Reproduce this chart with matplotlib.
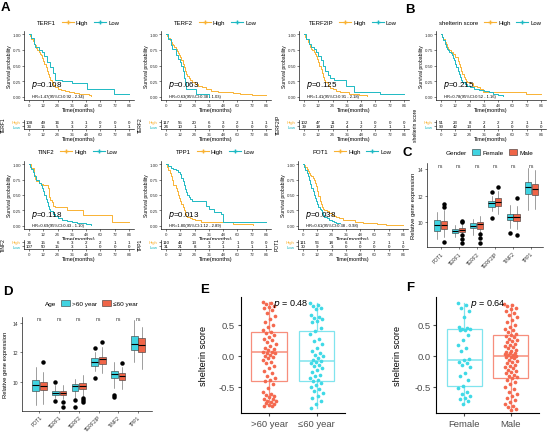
import matplotlib
matplotlib.use("Agg")
import matplotlib.pyplot as plt
import numpy as np
from matplotlib.lines import Line2D
from matplotlib.patches import Patch

plt.rcParams['font.family'] = ['Liberation Sans', 'DejaVu Sans']

# ---------------- data: Kaplan-Meier curves (months, survival) ----------------
months = [0, 12, 24, 36, 48, 60, 72, 84]

terf1_hi_t = [0, 1, 2, 3, 4, 5, 6, 7, 8, 9, 10, 11, 12, 13, 14, 15, 16, 17, 18, 19, 20, 22, 24, 27, 30, 34, 38, 42, 46, 50, 52]
terf1_hi_s = [1, 0.97, 0.93, 0.89, 0.85, 0.82, 0.78, 0.75, 0.72, 0.69, 0.66, 0.62, 0.57, 0.52, 0.47, 0.42, 0.37, 0.32, 0.27, 0.23, 0.19, 0.15, 0.13, 0.11, 0.09, 0.08, 0.06, 0.05, 0.04, 0.03, 0.02]
terf1_lo_t = [0, 2, 4, 5, 8, 11, 13, 15, 18, 20, 22, 28, 36, 49, 71, 84]
terf1_lo_s = [1, 0.94, 0.85, 0.8, 0.75, 0.72, 0.65, 0.55, 0.48, 0.38, 0.27, 0.26, 0.22, 0.13, 0.05, 0.05]

terf2_hi_t = [0, 1, 2, 3, 4, 5, 6, 7, 8, 9, 10, 11, 12, 13, 14, 15, 16, 17, 18, 19, 20, 22, 24, 27, 30, 34, 38, 44, 50, 56, 62, 68, 72, 84]
terf2_hi_s = [1, 0.97, 0.94, 0.91, 0.88, 0.85, 0.82, 0.79, 0.76, 0.73, 0.7, 0.67, 0.63, 0.58, 0.53, 0.47, 0.42, 0.37, 0.33, 0.3, 0.27, 0.23, 0.2, 0.17, 0.15, 0.12, 0.1, 0.08, 0.07, 0.06, 0.05, 0.04, 0.03, 0.03]
terf2_lo_t = [0, 2, 4, 5, 8, 10, 12, 13, 14, 15, 16, 17, 25, 36]
terf2_lo_s = [1, 0.92, 0.83, 0.76, 0.67, 0.6, 0.55, 0.5, 0.42, 0.3, 0.23, 0.12, 0.05, 0.0]

terf2ip_hi_t = [0, 1, 2, 3, 4, 5, 6, 7, 8, 9, 10, 11, 12, 13, 14, 15, 16, 17, 18, 20, 22, 24, 27, 30, 34, 38, 42, 46, 50, 53]
terf2ip_hi_s = [1, 0.96, 0.92, 0.88, 0.84, 0.8, 0.77, 0.74, 0.71, 0.68, 0.65, 0.61, 0.56, 0.5, 0.44, 0.38, 0.32, 0.27, 0.23, 0.18, 0.14, 0.12, 0.1, 0.08, 0.07, 0.05, 0.04, 0.03, 0.03, 0.02]
terf2ip_lo_t = [0, 2, 4, 6, 8, 10, 12, 14, 16, 18, 20, 22, 25, 35, 42, 64, 84]
terf2ip_lo_s = [1, 0.92, 0.85, 0.8, 0.76, 0.71, 0.65, 0.58, 0.5, 0.42, 0.35, 0.3, 0.27, 0.18, 0.08, 0.04, 0.04]

shelt_hi_t = [0, 1, 2, 3, 4, 5, 6, 7, 8, 10, 12, 14, 15, 16, 17, 18, 19, 20, 21, 22, 24, 27, 30, 33, 35, 71, 84]
shelt_hi_s = [1, 0.96, 0.92, 0.88, 0.84, 0.8, 0.76, 0.74, 0.72, 0.68, 0.64, 0.57, 0.52, 0.47, 0.42, 0.37, 0.32, 0.28, 0.25, 0.23, 0.22, 0.18, 0.15, 0.12, 0.08, 0.04, 0.04]
shelt_lo_t = [0, 1, 2, 3, 4, 5, 6, 7, 8, 9, 10, 11, 12, 13, 14, 15, 16, 17, 18, 20, 22, 24, 28, 32, 36, 40, 44, 48, 52]
shelt_lo_s = [1, 0.95, 0.9, 0.85, 0.8, 0.77, 0.75, 0.72, 0.7, 0.66, 0.62, 0.58, 0.53, 0.47, 0.41, 0.36, 0.31, 0.27, 0.24, 0.2, 0.18, 0.16, 0.13, 0.11, 0.09, 0.07, 0.05, 0.03, 0.02]

tinf2_hi_t = [0, 2, 4, 5, 6, 8, 10, 12, 14, 16, 17, 18, 19, 20, 22, 32, 45, 70, 84]
tinf2_hi_s = [1, 0.94, 0.82, 0.76, 0.73, 0.7, 0.68, 0.66, 0.66, 0.62, 0.47, 0.42, 0.38, 0.33, 0.31, 0.26, 0.17, 0.06, 0.06]
tinf2_lo_t = [0, 1, 2, 3, 4, 6, 8, 10, 11, 12, 13, 14, 15, 16, 17, 18, 20, 22, 24, 28, 32, 36, 40, 44, 48, 52]
tinf2_lo_s = [1, 0.96, 0.92, 0.87, 0.8, 0.74, 0.7, 0.66, 0.62, 0.56, 0.5, 0.44, 0.38, 0.33, 0.28, 0.24, 0.2, 0.16, 0.13, 0.1, 0.08, 0.07, 0.05, 0.04, 0.03, 0.02]

tpp1_hi_t = [0, 1, 2, 3, 4, 5, 6, 8, 9, 10, 11, 12, 13, 14, 15, 16, 17, 18, 20, 22, 24, 29, 56, 73]
tpp1_hi_s = [1, 0.95, 0.9, 0.85, 0.8, 0.75, 0.66, 0.62, 0.56, 0.5, 0.45, 0.4, 0.35, 0.3, 0.25, 0.2, 0.16, 0.14, 0.12, 0.11, 0.1, 0.06, 0.03, 0.02]
tpp1_lo_t = [0, 2, 4, 6, 8, 10, 12, 13, 14, 15, 16, 17, 18, 19, 20, 22, 34, 36, 40, 46, 48, 84]
tpp1_lo_s = [1, 0.97, 0.94, 0.92, 0.9, 0.88, 0.84, 0.78, 0.72, 0.66, 0.6, 0.55, 0.5, 0.46, 0.43, 0.4, 0.32, 0.28, 0.22, 0.2, 0.06, 0.06]

pot1_hi_t = [0, 1, 2, 3, 4, 5, 6, 7, 8, 9, 10, 11, 12, 13, 14, 15, 16, 17, 18, 20, 22, 24, 26, 28, 30, 34, 38, 44, 50, 56, 62, 70, 84]
pot1_hi_s = [1, 0.98, 0.96, 0.92, 0.89, 0.86, 0.83, 0.8, 0.77, 0.74, 0.7, 0.64, 0.56, 0.48, 0.41, 0.36, 0.31, 0.28, 0.26, 0.24, 0.21, 0.18, 0.16, 0.14, 0.12, 0.1, 0.09, 0.07, 0.05, 0.04, 0.03, 0.02, 0.02]
pot1_lo_t = [0, 1, 2, 3, 4, 5, 6, 7, 8, 9, 10, 11, 12, 13, 14, 15, 16, 17, 18, 20, 22, 24, 26, 28, 31]
pot1_lo_s = [1, 0.95, 0.9, 0.85, 0.8, 0.74, 0.68, 0.62, 0.56, 0.5, 0.45, 0.4, 0.35, 0.31, 0.28, 0.25, 0.21, 0.18, 0.15, 0.12, 0.1, 0.08, 0.07, 0.05, 0.05]

km_names = ["TERF1", "TERF2", "TERF2IP", "shelterin score", "TINF2", "TPP1", "POT1"]
km_pvals = ["0.108", "0.063", "0.125", "0.215", "0.118", "0.013", "0.038"]
km_hr = ["HR=1.47(95%CI:0.92 - 2.34)", "HR=0.63(95%CI:0.38 - 1.03)",
         "HR=1.41(95%CI:0.91 - 2.18)", "HR=0.78(95%CI:0.52 - 1.16)",
         "HR=0.69(95%CI:0.43 - 1.10)", "HR=1.80(95%CI:1.12 - 2.89)",
         "HR=0.61(95%CI:0.38 - 0.98)"]
risk_hi = [[108, 49, 16, 3, 1, 0, 0, 0], [117, 55, 20, 6, 3, 2, 1, 1],
           [102, 47, 11, 2, 1, 0, 0, 0], [51, 23, 8, 2, 2, 2, 1, 1],
           [34, 15, 6, 3, 2, 2, 1, 1], [110, 44, 13, 3, 2, 1, 0, 0],
           [111, 56, 18, 6, 3, 2, 1, 1]]
risk_lo = [[33, 15, 5, 3, 2, 2, 1, 1], [24, 10, 1, 0, 0, 0, 0, 0],
           [39, 18, 10, 4, 2, 2, 1, 1], [90, 42, 13, 4, 1, 0, 0, 0],
           [107, 50, 15, 3, 1, 0, 0, 0], [31, 21, 8, 3, 1, 1, 1, 1],
           [30, 9, 3, 0, 0, 0, 0, 0]]

# ---------------- data: expression boxplots (C: gender, D: age) ----------------
genes = ["POT1", "TERF1", "TERF2", "TERF2IP", "TINF2", "TPP1"]

fem_med = [9.82, 9.35, 9.75, 11.43, 10.4, 12.63]
fem_q1 = [9.37, 9.2, 9.55, 11.12, 10.17, 12.13]
fem_q3 = [10.17, 9.5, 9.92, 11.63, 10.62, 13.05]
fem_lo = [8.74, 8.9, 9.05, 10.85, 9.6, 10.9]
fem_hi = [10.77, 9.8, 10.25, 12.0, 11.3, 14.07]
fem_out = [[], [], [], [12.25, 10.3], [9.2], []]

male_med = [9.82, 9.42, 9.85, 11.5, 10.38, 12.5]
male_q1 = [9.5, 9.25, 9.5, 11.2, 10.1, 12.05]
male_q3 = [10.1, 9.57, 10.05, 11.8, 10.62, 12.88]
male_lo = [8.9, 9.0, 9.15, 10.6, 9.5, 11.0]
male_hi = [10.9, 9.85, 10.5, 12.35, 11.25, 13.9]
male_out = [[11.4, 11.15, 8.5], [10.1, 10.0, 9.05, 8.75, 8.42], [9.1, 8.8, 8.47], [12.63], [11.83, 9.07], []]

old_med = [9.77, 9.26, 9.68, 11.35, 10.54, 12.6]
old_q1 = [9.36, 9.07, 9.37, 11.07, 10.24, 12.16]
old_q3 = [10.11, 9.37, 9.84, 11.58, 10.73, 13.1]
old_lo = [8.41, 8.9, 8.9, 10.7, 9.6, 11.36]
old_hi = [11.02, 9.8, 10.2, 12.0, 11.35, 14.2]
old_out = [[], [9.95, 8.67], [8.74, 8.28], [12.29, 10.24], [9.07, 8.98], []]

young_med = [9.68, 9.2, 9.72, 11.52, 10.38, 12.5]
young_q1 = [9.42, 9.1, 9.5, 11.19, 10.14, 12.05]
young_q3 = [10.0, 9.37, 9.9, 11.7, 10.6, 13.0]
young_lo = [8.5, 8.8, 9.05, 10.6, 9.5, 10.85]
young_hi = [10.68, 9.75, 10.45, 12.35, 11.0, 13.7]
young_out = [[11.35], [8.6, 8.28], [8.9, 8.75, 8.6], [12.68], [11.25], []]

# ---------------- data: shelterin score (E: age, F: gender) ----------------
score_old = [0.87, 0.85, 0.83, 0.81, 0.79, 0.77, 0.74, 0.70, 0.64, 0.60, 0.55, 0.50, 0.46, 0.42, 0.39,
             0.37, 0.34, 0.31, 0.28, 0.25, 0.22, 0.19, 0.16, 0.13, 0.11, 0.09, 0.07, 0.06, 0.05, 0.04,
             0.02, 0.0, -0.02, -0.04, -0.06, -0.09, -0.12, -0.16, -0.20, -0.24, -0.28, -0.32, -0.36,
             -0.39, -0.41, -0.45, -0.52, -0.58, -0.61, -0.63, -0.65, -0.67, -0.69, -0.70, -0.72, -0.73,
             -0.75, -0.76, -0.78, -0.79, -0.80, -0.81]
score_young = [0.85, 0.82, 0.80, 0.78, 0.75, 0.66, 0.63, 0.61, 0.59, 0.57, 0.55, 0.45, 0.40, 0.36, 0.27,
               0.24, 0.20, 0.12, 0.08, 0.05, 0.02, 0.0, -0.03, -0.06, -0.08, -0.10, -0.12, -0.14, -0.16,
               -0.19, -0.22, -0.26, -0.30, -0.33, -0.36, -0.39, -0.41, -0.44, -0.47, -0.50, -0.53, -0.56,
               -0.60, -0.64, -0.68, -0.73, -0.78, -0.84]
score_female = [0.86, 0.82, 0.77, 0.72, 0.62, 0.47, 0.45, 0.44, 0.43, 0.42, 0.41, 0.33, 0.26, 0.18, 0.12,
                0.08, -0.05, -0.07, -0.09, -0.11, -0.14, -0.18, -0.27, -0.33, -0.38, -0.49, -0.51, -0.58,
                -0.62, -0.65, -0.68, -0.70, -0.73, -0.78]
score_male = [0.84, 0.82, 0.80, 0.78, 0.76, 0.73, 0.70, 0.66, 0.62, 0.58, 0.54, 0.50, 0.47, 0.44, 0.41,
              0.38, 0.36, 0.34, 0.32, 0.30, 0.28, 0.26, 0.24, 0.22, 0.20, 0.18, 0.16, 0.14, 0.12, 0.10,
              0.08, 0.06, 0.05, 0.04, 0.03, 0.02, 0.01, 0.0, -0.01, -0.02, -0.04, -0.06, -0.08, -0.10,
              -0.12, -0.14, -0.16, -0.18, -0.20, -0.22, -0.24, -0.26, -0.28, -0.30, -0.32, -0.34, -0.36,
              -0.38, -0.42, -0.46, -0.50, -0.54, -0.58, -0.62, -0.65, -0.68, -0.71, -0.74, -0.77, -0.80,
              -0.83, -0.85, -0.87]
# box summaries: (q1, median, q3, low whisker, high whisker)
box_old = (-0.40, 0.06, 0.38, -0.81, 0.87)
box_young = (-0.40, -0.08, 0.40, -0.84, 0.85)
box_female = (-0.49, -0.07, 0.44, -0.78, 0.86)
box_male = (-0.35, 0.0, 0.34, -0.87, 0.84)

# ---------------- styling ----------------
KM_HI = "#F9B233"
KM_LO = "#1DB9C3"
BX_CY = "#40D3E1"
BX_RD = "#EF6548"
PT_RD = "#F4694F"
PT_CY = "#3FD9E6"
ED_RD = "#F78E7C"
ED_CY = "#80E4EE"
GREY = "#4D4D4D"

W, H = 550, 435
fig = plt.figure(figsize=(5.5, 4.35), dpi=100)


def box(l, t, r, b):
    return [l / W, 1 - b / H, (r - l) / W, (b - t) / H]


def style(ax, fs, lw=0.45, pad=1):
    for s in ["top", "right"]:
        ax.spines[s].set_visible(False)
    for s in ["left", "bottom"]:
        ax.spines[s].set_linewidth(lw)
    ax.tick_params(labelsize=fs, length=1.5, width=lw, pad=pad, colors="#333333")


curves = [(terf1_hi_t, terf1_hi_s, terf1_lo_t, terf1_lo_s),
          (terf2_hi_t, terf2_hi_s, terf2_lo_t, terf2_lo_s),
          (terf2ip_hi_t, terf2ip_hi_s, terf2ip_lo_t, terf2ip_lo_s),
          (shelt_hi_t, shelt_hi_s, shelt_lo_t, shelt_lo_s),
          (tinf2_hi_t, tinf2_hi_s, tinf2_lo_t, tinf2_lo_s),
          (tpp1_hi_t, tpp1_hi_s, tpp1_lo_t, tpp1_lo_s),
          (pot1_hi_t, pot1_hi_s, pot1_lo_t, pot1_lo_s)]
# pixel origin (t=0) of each panel and row geometry
km_x0 = [29, 166, 304, 441, 29, 166, 303]
km_row = [0, 0, 0, 0, 1, 1, 1]
rows = [dict(leg=23, top=32, bot=101, rtop=120.5, rbot=129.5),
        dict(leg=152, top=162, bot=230, rtop=240.5, rbot=249.5)]

for i, name in enumerate(km_names):
    x0 = km_x0[i]
    g = rows[km_row[i]]
    hi_t, hi_s, lo_t, lo_s = curves[i]

    ax = fig.add_axes(box(x0 - 5, g["top"], x0 + 105, g["bot"]))
    ax.step(hi_t, hi_s, where="post", color=KM_HI, lw=0.7)
    ax.step(lo_t, lo_s, where="post", color=KM_LO, lw=0.7)
    ax.set_xlim(-4.2, 88.2)
    ax.set_ylim(-0.05, 1.05)
    ax.set_xticks(months)
    ax.set_yticks([0, 0.25, 0.5, 0.75, 1.0])
    ax.set_yticklabels(["0.00", "0.25", "0.50", "0.75", "1.00"])
    style(ax, 3.2, pad=0.7)
    ax.set_xlabel("Time(months)", fontsize=4.0, labelpad=0)
    ax.set_ylabel("Survival probability", fontsize=3.6, labelpad=1)
    ax.yaxis.set_label_coords(-0.11, 0.5)
    ax.text(1.5, 0.19, "$p$=" + km_pvals[i], fontsize=5.8, va="center")
    ax.text(2.5, 0.01, km_hr[i], fontsize=3.0, va="center")

    handles = [Line2D([], [], alpha=0),
               Line2D([], [], color=KM_HI, lw=0.8, marker="+", ms=3),
               Line2D([], [], color=KM_LO, lw=0.8, marker="+", ms=3)]
    fig.legend(handles, [name, "High", "Low"], loc="center", ncol=3, frameon=False,
               bbox_to_anchor=((x0 + 42) / W, 1 - g["leg"] / H), fontsize=4.3,
               handlelength=2.0, handletextpad=0.4, columnspacing=0.9, borderpad=0)

    rx = fig.add_axes(box(x0 - 5, g["rtop"], x0 + 105, g["rbot"]))
    rx.set_xlim(-4.2, 88.2)
    rx.set_ylim(-0.45, 1.45)
    for m, a, b in zip(months, risk_hi[i], risk_lo[i]):
        rx.text(m, 1, str(a), fontsize=3.2, ha="center", va="center")
        rx.text(m, 0, str(b), fontsize=3.2, ha="center", va="center")
    rx.set_xticks(months)
    rx.set_yticks([1, 0])
    rx.set_yticklabels(["High", "Low"])
    style(rx, 3.2, pad=0.7)
    rx.get_yticklabels()[0].set_color(KM_HI)
    rx.get_yticklabels()[1].set_color(KM_LO)
    rx.set_xlabel("Time(months)", fontsize=4.0, labelpad=0)
    rx.set_ylabel(name, fontsize=3.6)
    rx.yaxis.set_label_coords(-0.165, 0.5)


def expr_panel(rect, ylim, xlim, ns_y, a, b, col_a, col_b):
    ax = fig.add_axes(rect)
    pos = np.arange(1, len(genes) + 1)
    for stats_src, col, off in [(a, col_a, -0.19), (b, col_b, 0.19)]:
        med, q1, q3, lo, hi, out = stats_src
        stats = [dict(med=med[k], q1=q1[k], q3=q3[k], whislo=lo[k], whishi=hi[k], fliers=out[k])
                 for k in range(len(genes))]
        ax.bxp(stats, positions=pos + off, widths=0.34, patch_artist=True, showcaps=False,
               boxprops=dict(facecolor=col, edgecolor="#333333", lw=0.4),
               medianprops=dict(color="black", lw=0.8),
               whiskerprops=dict(color="#555555", lw=0.4),
               flierprops=dict(marker="o", ms=2.2, mfc="black", mec="black"))
    for p in pos:
        ax.text(p, ns_y, "ns", fontsize=3.6, ha="center", va="center", color="#333333")
    ax.set_xlim(*xlim)
    ax.set_ylim(*ylim)
    ax.set_yticks([10, 12, 14])
    ax.set_xticks(pos)
    ax.set_xticklabels(genes, rotation=45, ha="right", rotation_mode="anchor")
    style(ax, 3.6)
    ax.set_ylabel("Relative gene expression", fontsize=4.2)
    return ax


axc = expr_panel(box(427, 164, 543, 248.3), (8.12, 14.45), (0.25, 6.65), 14.25,
                 (fem_med, fem_q1, fem_q3, fem_lo, fem_hi, fem_out),
                 (male_med, male_q1, male_q3, male_lo, male_hi, male_out), BX_CY, BX_RD)
axc.yaxis.set_label_coords(-0.095, 0.5)
axd = expr_panel(box(21.7, 318, 151.7, 411.7), (8.02, 14.41), (0.1, 6.7), 14.3,
                 (old_med, old_q1, old_q3, old_lo, old_hi, old_out),
                 (young_med, young_q1, young_q3, young_lo, young_hi, young_out), BX_CY, BX_RD)
axd.yaxis.set_label_coords(-0.105, 0.5)

for title, labs, cx, cy in [("Gender", ["Female", "Male"], 484, 153),
                            ("Age", [">60 year", "≤60 year"], 86, 304)]:
    hs = [Patch(alpha=0),
          Patch(facecolor=BX_CY, edgecolor="#333333", lw=0.4),
          Patch(facecolor=BX_RD, edgecolor="#333333", lw=0.4)]
    fig.legend(hs, [title] + labs, loc="center", ncol=3, frameon=False,
               bbox_to_anchor=(cx / W, 1 - cy / H), fontsize=4.6, handlelength=1.3,
               handleheight=1.0, handletextpad=0.4, columnspacing=0.8, borderpad=0)


def score_panel(rect, cats, vals, boxes, pts, edges, ptxt, ptext):
    ax = fig.add_axes(rect)
    for k in range(2):
        q1, med, q3, lo, hi = boxes[k]
        ax.bxp([dict(med=med, q1=q1, q3=q3, whislo=lo, whishi=hi, fliers=[])],
               positions=[k + 1], widths=0.75, patch_artist=True, showcaps=False,
               boxprops=dict(facecolor="none", edgecolor=edges[k], lw=0.9),
               medianprops=dict(color=edges[k], lw=1.1),
               whiskerprops=dict(color=edges[k], lw=0.9))
        v = np.asarray(vals[k])
        jit = ((np.arange(len(v)) * 0.618034) % 1 - 0.5) * 0.28
        ax.scatter(k + 1 + jit, v, s=7, color=pts[k], lw=0, zorder=3)
    ax.text(ptxt, 0.85, "$p$ = " + ptext, fontsize=6.5, va="center")
    ax.set_xlim(0.4, 2.6)
    ax.set_ylim(-0.92, 0.95)
    ax.set_yticks([-0.5, 0.0, 0.5])
    ax.set_yticklabels(["-0.5", "0.0", "0.5"])
    ax.set_xticks([1, 2])
    ax.set_xticklabels(cats)
    style(ax, 6.8, lw=0.8)
    ax.tick_params(length=2.5, colors=GREY, labelsize=6.8, pad=1.5)
    ax.set_ylabel("shelterin score", fontsize=6.6)
    return ax


axe = score_panel(box(240.7, 298, 345, 414), [">60 year", "≤60 year"],
                  [score_old, score_young], [box_old, box_young], [PT_RD, PT_CY], [ED_RD, ED_CY],
                  1.09, "0.48")
axe.yaxis.set_label_coords(-0.31, 0.5)
axf = score_panel(box(436, 298, 539, 414), ["Female", "Male"],
                  [score_female, score_male], [box_female, box_male], [PT_CY, PT_RD], [ED_CY, ED_RD],
                  1.12, "0.64")
axf.yaxis.set_label_coords(-0.33, 0.5)

for lab, x, y in [("A", 5, 8), ("B", 410, 10), ("C", 407, 153), ("D", 8, 292), ("E", 205, 290), ("F", 410, 288)]:
    fig.text(x / W, 1 - y / H, lab, fontsize=9.5, fontweight="bold", va="center", ha="center")

fig.savefig("out.png", dpi=100)
